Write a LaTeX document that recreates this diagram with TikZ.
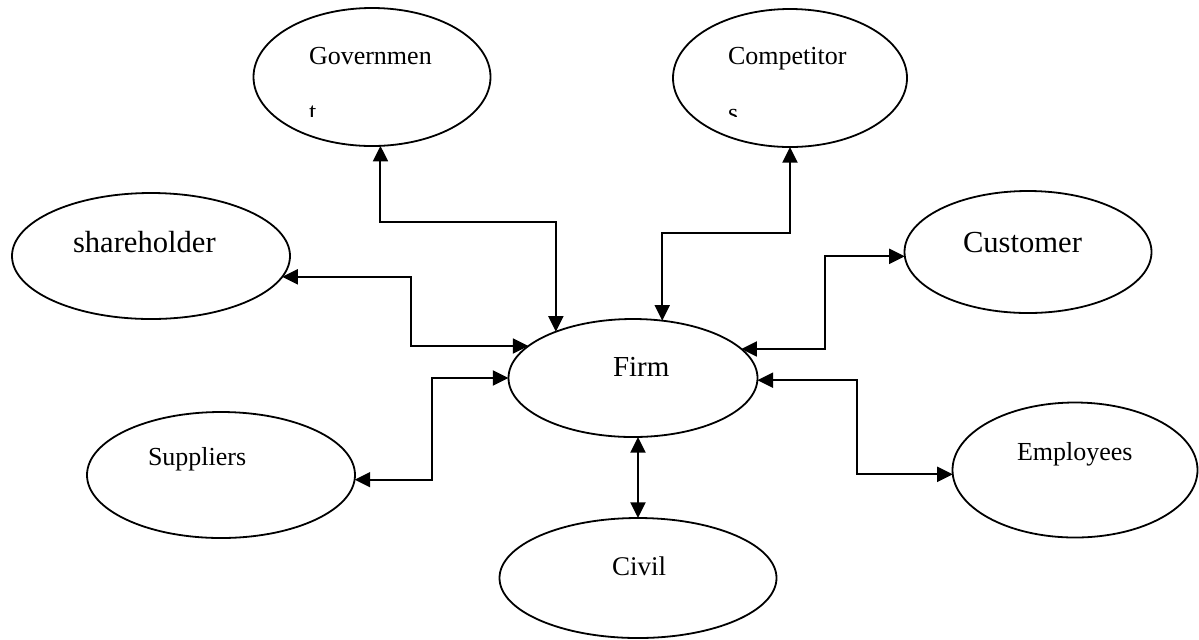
\documentclass[tikz,border=0pt]{standalone}
\usepackage{fontspec}
\setmainfont{Liberation Serif}
\usetikzlibrary{arrows.meta,shapes.geometric}
\tikzset{
  party/.style={draw, ellipse, line width=0.9pt, inner sep=0pt, outer sep=0pt},
  lbl/.style={inner sep=0pt, outer sep=0pt, anchor=base west},
  small/.style={font=\fontsize{13}{15}\selectfont},
  big/.style={font=\fontsize{15.3}{18}\selectfont},
  link/.style={line width=1pt, {Triangle[length=7.8pt,width=7.5pt]}-{Triangle[length=7.8pt,width=7.5pt]}}
}
\begin{document}
\begin{tikzpicture}[x=0.5pt,y=-0.5pt]
\useasboundingbox (0,0) rectangle (1199,639);
% ellipses
\node[party, minimum width=118.5pt, minimum height=69pt] (gov) at (372,77) {};
\node[party, minimum width=117pt, minimum height=69pt] (comp) at (790,78) {};
\node[party, minimum width=139pt, minimum height=63pt] (share) at (151,256) {};
\node[party, minimum width=123.5pt, minimum height=61pt] (cust) at (1028,252) {};
\node[party, minimum width=124.5pt, minimum height=59pt] (firm) at (633,378) {};
\node[party, minimum width=134pt, minimum height=63pt] (supp) at (221,475) {};
\node[party, minimum width=122.5pt, minimum height=67.5pt] (emp) at (1075,470) {};
\node[party, minimum width=138.5pt, minimum height=60pt] (civil) at (638,578) {};
% labels
\node[lbl, small] (govt) at (309,64) {Governmen};
\node[lbl, small] (compt) at (728,64) {Competitor};
\begin{scope}
  \clip (250,0) rectangle (950,116);
  \node[lbl, small] (govt2) at (309,120) {t};
  \node[lbl, small] (compt2) at (728,121) {s};
\end{scope}
\node[lbl, big] (sharet) at (73,252) {shareholder};
\node[lbl, big] (custt) at (963,252) {Customer};
\node[lbl, font=\fontsize{14.5}{17}\selectfont] (firmt) at (613,376) {Firm};
\node[lbl, font=\fontsize{13.5}{16}\selectfont] (civilt) at (612,575) {Civil};
\node[lbl, small] (suppt) at (148,465) {Suppliers};
\node[lbl, small] (empt) at (1017,460) {Employees};
% connectors
\draw[link] (gov.-83) -- ++(0,76) -| (firm.149.5);
\draw[link] (share.-9) -| ([xshift=-58.75pt]firm.163.6) -- (firm.163.6);
\draw[link] (supp.-2) -| ([xshift=-38.25pt]firm.west) -- (firm.west);
\draw[link] (comp.south) -- ++(0,86) -| (firm.63);
\draw[link] (cust.182) -| ([xshift=41.7pt]firm.15.8) -- (firm.15.8);
\draw[link] (firm.-1) -| ([xshift=-47.75pt]emp.182) -- (emp.182);
\draw[link] (firm.south -| civil.north) -- (civil.north);
\end{tikzpicture}
\end{document}
